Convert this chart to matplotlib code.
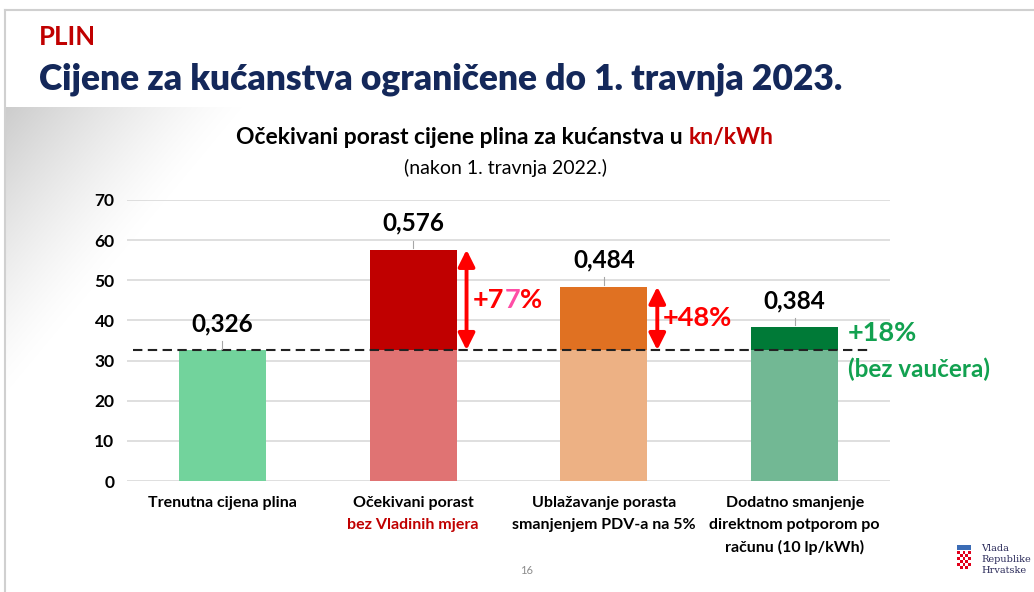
import numpy as np
import matplotlib.pyplot as plt
from matplotlib.patches import Rectangle

plt.rcParams['font.family'] = ['Lato', 'DejaVu Sans']

# data
categories = [
    ['Trenutna cijena plina'],
    ['Očekivani porast', 'bez Vladinih mjera'],
    ['Ublažavanje porasta', 'smanjenjem PDV-a na 5%'],
    ['Dodatno smanjenje', 'direktnom potporom po', 'računu (10 lp/kWh)'],
]
label_colors = [['black'], ['black', '#C00000'], ['black', 'black'], ['black', 'black', 'black']]
prices = [0.326, 0.576, 0.484, 0.384]  # kn/kWh
increase = ['', '+77%', '+48%', '+18%']
yticks = [0, 10, 20, 30, 40, 50, 60, 70]

dark = ['#72D39C', '#C00000', '#E07122', '#007A37']
light = ['#72D39C', '#E07373', '#EDB184', '#72B894']

W, H = 1034, 592
fig = plt.figure(figsize=(W / 100, H / 100), dpi=100)
fig.patch.set_facecolor('white')

# background layer in pixel coords
bg = fig.add_axes([0, 0, 1, 1], zorder=0)
bg.set_xlim(0, W)
bg.set_ylim(H, 0)
bg.axis('off')

# grey gradient in the top-left corner of the chart area
gx, gy = np.meshgrid(np.arange(5, 300), np.arange(107, 400))
t = np.clip(1 - ((gx - 5) / 240 + (gy - 107) / 290), 0, 1)
img = np.zeros(gx.shape + (4,))
img[..., :3] = 0.80
img[..., 3] = t ** 1.3
bg.imshow(img, extent=(5, 300, 400, 107), aspect='auto', interpolation='bilinear')

bg.plot([5, W], [10, 10], color='#D0D0D0', lw=1.5)
bg.plot([5, 5], [10, H], color='#D0D0D0', lw=1.5)

bg.text(39, 45, 'PLIN', color='#C00000', fontsize=18.5, fontweight='bold', va='baseline')
bg.text(39, 89, 'Cijene za kućanstva ograničene do 1. travnja 2023.', color='#14285A',
        fontsize=25.5, fontweight='heavy', va='baseline')

t1 = bg.text(0, 144, 'Očekivani porast cijene plina za kućanstva u ', fontsize=16.5,
             fontweight='bold', va='baseline')
t2 = bg.text(0, 144, 'kn/kWh', fontsize=16.5, fontweight='bold', color='#C00000', va='baseline')
bg.text(505, 168, '(nakon 1. travnja 2022.)', fontsize=14, ha='center', va='center')

bg.text(527, 571, '16', fontsize=8, color='#8C8C8C', ha='center', va='center')

# logo
for r in range(6):
    for c in range(5):
        col = '#E1001A' if (r + c) % 2 == 0 else 'white'
        bg.add_patch(Rectangle((957 + c * 2.8, 551 + r * 3.0), 2.8, 3.0, color=col, lw=0))
bg.add_patch(Rectangle((957, 545), 14, 5, color='#3B6CB5', lw=0))
for k, word in enumerate(['Vlada', 'Republike', 'Hrvatske']):
    bg.text(981, 551 + k * 11, word, fontsize=7, family='DejaVu Serif', color='#2B2B5A',
            va='baseline')

# chart
ax = fig.add_axes([127 / W, 1 - 481 / H, 763 / W, 281 / H], zorder=1)
ax.patch.set_alpha(0)

vals = np.array(prices) * 100
base = vals[0]
x = np.arange(len(vals))
bw = 0.455

ax.bar(x, np.minimum(vals, base), width=bw, color=light, zorder=2)
ax.bar(x[1:], vals[1:] - base, bottom=base, width=bw, color=dark[1:], zorder=2)
ax.plot([-0.47, 3.385], [base, base], color='#222222', lw=1.5, dashes=(4.5, 2.6), zorder=3)

for i, v in enumerate(vals):
    ax.plot([i, i], [v + 0.4, v + 2.3], color='#A6A6A6', lw=0.8, zorder=3)
    ax.text(i, v + 4.7, f'{prices[i]:.3f}'.replace('.', ','), fontsize=17.5, fontweight='bold',
            ha='center', va='baseline', zorder=4)

# arrows + percentages
for i in (1, 2):
    ax.annotate('', xy=(i + 0.28, vals[i]), xytext=(i + 0.28, base),
                arrowprops=dict(arrowstyle='<|-|>,head_length=0.5,head_width=0.25',
                                color='#FF0000', lw=2.8, mutation_scale=20,
                                shrinkA=0, shrinkB=0), zorder=4)

p77a = ax.text(1.315, (base + vals[1]) / 2, increase[1][:2], color='#FF0000', fontsize=19.5,
               fontweight='bold', va='center')
p77b = ax.text(1.315, (base + vals[1]) / 2, increase[1][2], color='#FF4DA6', fontsize=19.5,
               fontweight='bold', va='center')
p77c = ax.text(1.315, (base + vals[1]) / 2, increase[1][3:], color='#FF0000', fontsize=19.5,
               fontweight='bold', va='center')
ax.text(2.31, (base + vals[2]) / 2, increase[2], color='#FF0000', fontsize=19.5,
        fontweight='bold', va='center')
ax.text(3.28, (base + vals[3]) / 2 + 1.3, increase[3], color='#12A150', fontsize=19.5,
        fontweight='bold', va='center')
ax.text(3.28, (base + vals[3]) / 2 - 7.6, '(bez vaučera)', color='#12A150', fontsize=17.5,
        fontweight='bold', va='center')

# category labels
for i, lines in enumerate(categories):
    for k, line in enumerate(lines):
        ax.annotate(line, xy=(i, 0), xycoords=('data', 'axes fraction'),
                    xytext=(0, -16 - k * 15.8), textcoords='offset points',
                    ha='center', va='center', fontsize=11.5, fontweight='bold',
                    color=label_colors[i][k])

ax.set_xlim(-0.5, 3.5)
ax.set_ylim(0, 70)
ax.set_yticks(yticks)
ax.set_yticklabels([str(v) for v in yticks], fontsize=12.5, fontweight='bold')
ax.set_xticks([])
ax.tick_params(axis='y', length=0, pad=9)
ax.yaxis.grid(True, color='#D9D9D9', lw=1.2, zorder=0)
ax.set_axisbelow(True)
for s in ax.spines.values():
    s.set_visible(False)

# place multi-colour text pieces next to each other
fig.canvas.draw()
r = fig.canvas.get_renderer()
w1 = t1.get_window_extent(r).width
w2 = t2.get_window_extent(r).width
x0 = 505 - (w1 + w2) / 2
t1.set_x(x0)
t2.set_x(x0 + w1)

px = ax.transData.transform((1, 0))[0] - ax.transData.transform((0, 0))[0]
wa = p77a.get_window_extent(r).width
wb = p77b.get_window_extent(r).width
p77b.set_x(1.315 + wa / px)
p77c.set_x(1.315 + (wa + wb) / px)

fig.savefig('out.png', dpi=100)
